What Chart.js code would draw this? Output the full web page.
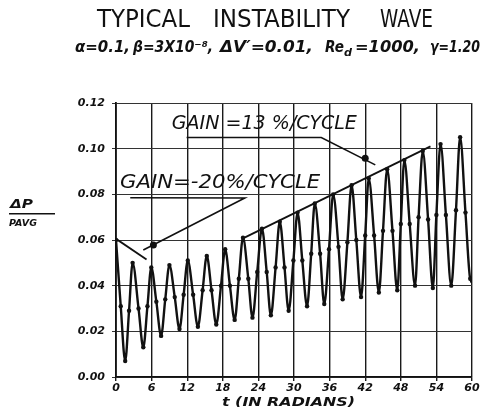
<!DOCTYPE html>
<html>
<head>
<meta charset="utf-8">
<script src="https://cdn.jsdelivr.net/npm/chart.js@4.4.1/dist/chart.umd.min.js"></script>
<style>
  html, body { margin: 0; padding: 0; background: #fff; }
  #wrap { width: 486px; height: 416px; }
</style>
</head>
<body>
<div id="wrap"><canvas id="wave-chart" width="486" height="416"></canvas></div>
<script>
// t (radians) and dP/Pavg (peaks, troughs and side points)
const tValues = [
  0, 0.8, 1.55, 2.2, 2.8, 3.8, 4.6, 5.3, 5.95, 6.8, 7.6, 8.3,
  9.0, 9.9, 10.7, 11.4, 12.1, 13.0, 13.8, 14.6, 15.3, 16.1, 16.9, 17.7,
  18.4, 19.2, 20.0, 20.7, 21.4, 22.3, 23.0, 23.8, 24.6, 25.4, 26.1, 26.9,
  27.6, 28.4, 29.1, 29.9, 30.6, 31.4, 32.2, 32.9, 33.5, 34.4, 35.1, 35.9,
  36.6, 37.5, 38.2, 39.0, 39.7, 40.5, 41.3, 42.0, 42.6, 43.5, 44.3, 45.0,
  45.7, 46.6, 47.4, 48.0, 48.6, 49.5, 50.4, 51.0, 51.7, 52.6, 53.4, 54.0,
  54.7, 55.6, 56.5, 57.3, 58.0, 58.9, 59.7, 60.0
];
const dpValues = [
  0.060, 0.031, 0.007, 0.029, 0.050, 0.030, 0.013, 0.031, 0.048, 0.033, 0.018, 0.034,
  0.049, 0.035, 0.021, 0.036, 0.051, 0.036, 0.022, 0.038, 0.053, 0.038, 0.023, 0.040,
  0.056, 0.040, 0.025, 0.043, 0.061, 0.043, 0.026, 0.046, 0.065, 0.046, 0.027, 0.048,
  0.068, 0.048, 0.029, 0.051, 0.072, 0.051, 0.031, 0.054, 0.076, 0.054, 0.032, 0.056,
  0.080, 0.057, 0.034, 0.059, 0.084, 0.060, 0.035, 0.062, 0.087, 0.062, 0.037, 0.064,
  0.091, 0.064, 0.038, 0.067, 0.095, 0.067, 0.040, 0.070, 0.099, 0.069, 0.039, 0.071,
  0.102, 0.071, 0.040, 0.073, 0.105, 0.072, 0.043, 0.042
];

const xTicks = [0, 6, 12, 18, 24, 30, 36, 42, 48, 54, 60];
const yTicks = [0, 0.02, 0.04, 0.06, 0.08, 0.10, 0.12];

// gain envelopes and leader lines (t, dP/Pavg)
const growthEnvelope = [[21.4, 0.0607], [53.0, 0.101]];
const decayEnvelope = [[0, 0.0605], [5.15, 0.0515]];
const growthLeader = [[11.9, 0.1049], [34.6, 0.1049], [43.7, 0.0929]];
const decayLeader = [[2.4, 0.0785], [21.7, 0.0784], [4.6, 0.0556]];
const leaderHeads = [[42.0, 0.0958], [6.3, 0.0578]];

// annotation text: label, left t, right t, baseline value
const gainNotes = [
  ['GAIN =13 %/CYCLE', 9.4, 40.6, 0.1085],
  ['GAIN=-20%/CYCLE', 0.67, 34.4, 0.0826]
];

const ink = '#111';
const toXY = (pairs) => pairs.map(p => ({ x: p[0], y: p[1] }));

function fitText(ctx, txt, x0, x1, base, font) {
  ctx.font = font;
  const w = ctx.measureText(txt).width;
  ctx.save();
  ctx.translate(x0, base);
  ctx.scale((x1 - x0) / w, 1);
  ctx.fillText(txt, 0, 0);
  ctx.restore();
}

const textPlugin = {
  id: 'textPlugin',
  afterDraw(chart) {
    const ctx = chart.ctx;
    const xs = chart.scales.x, ys = chart.scales.y;
    ctx.save();
    ctx.fillStyle = ink;
    ctx.textAlign = 'left';
    ctx.textBaseline = 'alphabetic';

    // title
    const tf = '24px "DejaVu Sans"';
    fitText(ctx, 'TYPICAL', 97, 190, 27, tf);
    fitText(ctx, 'INSTABILITY', 213, 350, 27, tf);
    fitText(ctx, 'WAVE', 380, 433, 27, tf);

    // parameters line
    const sf = 'italic bold 16px "DejaVu Sans"';
    fitText(ctx, 'α=0.1,', 75, 130, 52, sf);
    fitText(ctx, 'β=3X10⁻⁸,', 133, 213, 52, sf);
    fitText(ctx, 'ΔV′=0.01,', 220, 313, 52, sf);
    fitText(ctx, 'Re', 325, 344, 52, sf);
    fitText(ctx, 'd', 344, 352, 56, 'italic bold 11px "DejaVu Sans"');
    fitText(ctx, '=1000,', 355, 420, 52, sf);
    fitText(ctx, 'γ=1.20', 430, 480, 52, sf);

    // y axis title as a fraction
    fitText(ctx, 'ΔP', 10, 33, 208, 'italic bold 12px "DejaVu Sans"');
    ctx.fillRect(9, 213, 46, 1.5);
    fitText(ctx, 'PAVG', 9, 37, 226, 'italic bold 9px "DejaVu Sans"');

    // x axis title
    fitText(ctx, 't (IN RADIANS)', 222, 355, 406, 'italic bold 13px "DejaVu Sans"');

    // gain notes
    gainNotes.forEach(([txt, t0, t1, v]) => {
      fitText(ctx, txt, xs.getPixelForValue(t0), xs.getPixelForValue(t1),
        ys.getPixelForValue(v), 'italic 19px "DejaVu Sans"');
    });
    ctx.restore();
  }
};

const lineSet = (pairs, width) => ({
  data: toXY(pairs),
  borderColor: ink,
  borderWidth: width,
  pointRadius: 0,
  tension: 0
});

new Chart(document.getElementById('wave-chart'), {
  type: 'line',
  data: {
    datasets: [
      {
        data: tValues.map((t, i) => ({ x: t, y: dpValues[i] })),
        borderColor: ink,
        borderWidth: 2.4,
        pointRadius: 2.2,
        pointBackgroundColor: ink,
        pointBorderWidth: 0,
        cubicInterpolationMode: 'monotone'
      },
      lineSet(growthEnvelope, 1.8),
      lineSet(decayEnvelope, 1.8),
      lineSet(growthLeader, 1.6),
      lineSet(decayLeader, 1.6),
      {
        data: toXY(leaderHeads),
        showLine: false,
        pointRadius: 3.5,
        pointBackgroundColor: ink,
        pointBorderWidth: 0
      }
    ]
  },
  options: {
    responsive: false,
    animation: false,
    layout: { padding: { top: 103, right: 14, left: 0, bottom: 0 } },
    plugins: {
      legend: { display: false },
      tooltip: { enabled: false },
      title: { display: false }
    },
    scales: {
      x: {
        type: 'linear',
        min: 0,
        max: 60,
        afterBuildTicks: s => { s.ticks = xTicks.map(v => ({ value: v })); },
        afterFit: s => { s.height = 39; },
        grid: { color: '#1a1a1a', lineWidth: 1.4, tickLength: 4 },
        border: { color: ink, width: 1.5 },
        ticks: {
          color: ink,
          padding: 1,
          maxRotation: 0,
          font: { family: 'DejaVu Sans', size: 11, style: 'italic', weight: 'bold' }
        }
      },
      y: {
        min: 0,
        max: 0.12,
        afterBuildTicks: s => { s.ticks = yTicks.map(v => ({ value: v })); },
        afterFit: s => { s.width = 116; },
        grid: { color: '#333', lineWidth: 1, tickLength: 4 },
        border: { color: ink, width: 1.8 },
        ticks: {
          color: ink,
          padding: 7,
          font: { family: 'DejaVu Sans', size: 11, style: 'italic', weight: 'bold' },
          callback: v => v.toFixed(2)
        }
      }
    }
  },
  plugins: [textPlugin]
});
</script>
</body>
</html>
